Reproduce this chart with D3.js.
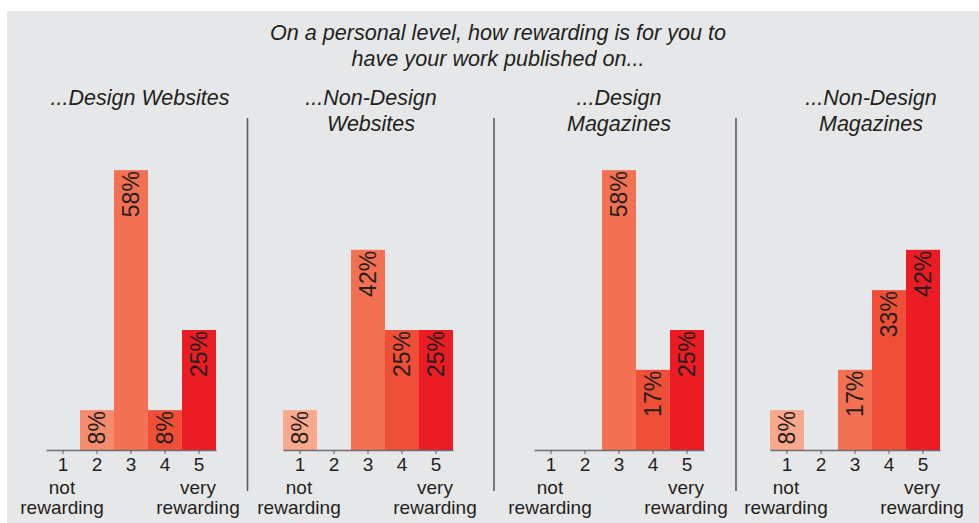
<!DOCTYPE html>
<html>
<head>
<meta charset="utf-8">
<script src="https://cdn.jsdelivr.net/npm/d3@7"></script>
<style>
  html, body { margin: 0; padding: 0; background: #ffffff; }
  svg { display: block; }
  text { font-family: "Liberation Sans", Arial, Helvetica, sans-serif; fill: #231f20; }
</style>
</head>
<body>
<svg id="chart" width="979" height="523"></svg>
<script>
// ---- data ----
const categories = ["1", "2", "3", "4", "5"];
const titleLines = ["On a personal level, how rewarding is for you to", "have your work published on..."];
const panelTitles = [
  ["...Design Websites"],
  ["...Non-Design", "Websites"],
  ["...Design", "Magazines"],
  ["...Non-Design", "Magazines"]
];
const designWebsites = [0, 8.3, 58.3, 8.3, 25];
const nonDesignWebsites = [8.3, 0, 41.7, 25, 25];
const designMagazines = [0, 0, 58.3, 16.7, 25];
const nonDesignMagazines = [8.3, 0, 16.7, 33.3, 41.7];
const lowLabel = ["not", "rewarding"];
const highLabel = ["very", "rewarding"];
const colors = ["#f9a88b", "#f68b6d", "#f37152", "#ef4f36", "#ec1c24"];

const series = [designWebsites, nonDesignWebsites, designMagazines, nonDesignMagazines];

// ---- layout ----
const svg = d3.select("#chart");
const W = 979, H = 523;
const baseY = 450;
const panelX = [46, 283, 534, 770];
const panelW = 170;
const titleX = [140, 371, 619, 871];
const dividerX = [247.5, 494, 736];

svg.append("rect").attr("x", 7).attr("y", 11).attr("width", W - 7).attr("height", H - 11).attr("fill", "#e6e7e8");

// main title
svg.append("g").selectAll("text").data(titleLines).join("text")
  .attr("x", 498).attr("y", (d, i) => 40 + i * 25.5)
  .attr("text-anchor", "middle")
  .style("font-size", "21.6px").style("font-style", "italic")
  .text(d => d);

// dividers
svg.append("g").selectAll("line").data(dividerX).join("line")
  .attr("x1", d => d).attr("x2", d => d)
  .attr("y1", 118).attr("y2", 491)
  .attr("stroke", "#5a5b5d").attr("stroke-width", 1.6);

const y = d3.scaleLinear().domain([0, 100]).range([baseY, baseY - 480]);
const color = d3.scaleOrdinal().domain(categories).range(colors);

series.forEach((vals, p) => {
  const x = d3.scaleBand().domain(categories).range([panelX[p], panelX[p] + panelW]).padding(0);
  const g = svg.append("g");

  // panel title
  g.selectAll("text.ptitle").data(panelTitles[p]).join("text")
    .attr("class", "ptitle")
    .attr("x", titleX[p]).attr("y", (d, i) => 105 + i * 26)
    .attr("text-anchor", "middle")
    .style("font-size", "21.5px").style("font-style", "italic")
    .text(d => d);

  const data = categories.map((c, i) => ({ c, v: vals[i] }));

  // bars
  g.selectAll("rect.bar").data(data.filter(d => d.v > 0)).join("rect")
    .attr("class", "bar")
    .attr("x", d => x(d.c)).attr("width", x.bandwidth())
    .attr("y", d => y(d.v)).attr("height", d => y(0) - y(d.v))
    .attr("fill", d => color(d.c));

  // value labels
  g.selectAll("text.val").data(data.filter(d => d.v > 0)).join("text")
    .attr("class", "val")
    .attr("transform", d => `translate(${x(d.c) + x.bandwidth() / 2},${y(d.v) + 1}) rotate(-90)`)
    .attr("text-anchor", "end")
    .attr("dy", "0.36em")
    .style("font-size", "23px")
    .text(d => Math.round(d.v) + "%");

  // axis
  const ax = g.append("g").attr("transform", `translate(0,${baseY})`)
    .call(d3.axisBottom(x).tickSize(4).tickSizeOuter(0).tickPadding(4));
  ax.select(".domain").attr("stroke", "#6d6e71").attr("stroke-width", 1.6);
  ax.selectAll(".tick line").attr("stroke", "#6d6e71").attr("stroke-width", 1.2);
  ax.selectAll(".tick text").style("font-size", "19px").style("font-family", "'Liberation Sans', Arial, sans-serif").attr("fill", "#231f20");

  // end labels
  const c1 = x(categories[0]) + x.bandwidth() / 2;
  const c5 = x(categories[categories.length - 1]) + x.bandwidth() / 2;
  g.selectAll("text.low").data(lowLabel).join("text")
    .attr("class", "low")
    .attr("x", c1 - 1).attr("y", (d, i) => 494 + i * 20)
    .attr("text-anchor", "middle").style("font-size", "19px")
    .text(d => d);
  g.selectAll("text.high").data(highLabel).join("text")
    .attr("class", "high")
    .attr("x", c5 - 1).attr("y", (d, i) => 494 + i * 20)
    .attr("text-anchor", "middle").style("font-size", "19px")
    .text(d => d);
});
</script>
</body>
</html>
